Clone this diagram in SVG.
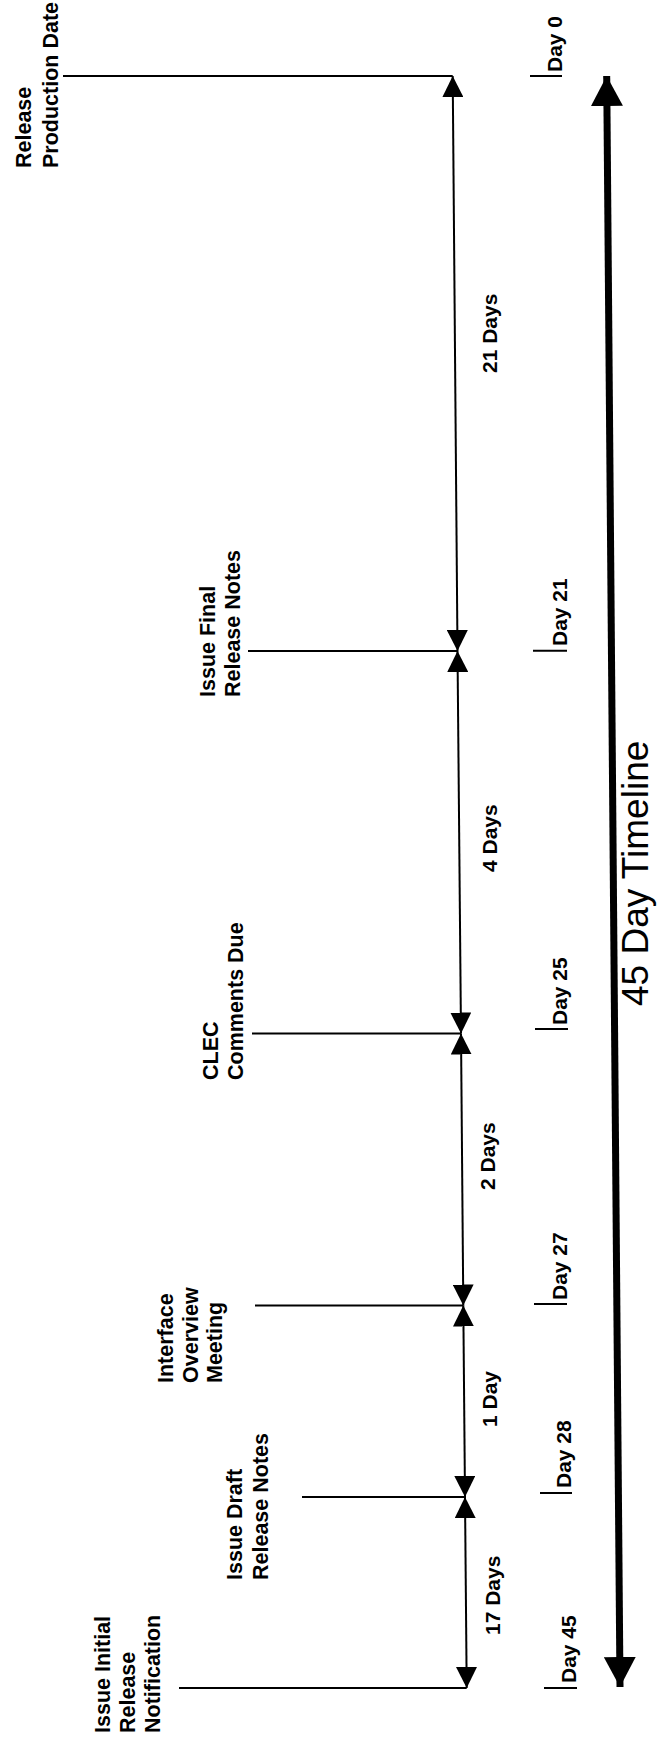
<svg xmlns="http://www.w3.org/2000/svg" width="657" height="1740" viewBox="0 0 657 1740">
<style>
.lbl{font-family:"Liberation Sans",Arial,sans-serif;font-weight:bold;font-size:21.5px;fill:#000}
.dur{font-family:"Liberation Sans",Arial,sans-serif;font-weight:bold;font-size:21px;fill:#000}
.day{font-family:"Liberation Sans",Arial,sans-serif;font-weight:bold;font-size:21px;fill:#000}
.title{font-family:"Liberation Sans",Arial,sans-serif;font-size:37px;fill:#000}
.lead{stroke:#000;stroke-width:2;fill:none}
.seg{stroke:#000;stroke-width:2;fill:none;marker-start:url(#ah);marker-end:url(#ah)}
.tick{stroke:#000;stroke-width:2}
.big{stroke:#000;stroke-width:7;fill:none;marker-start:url(#bh);marker-end:url(#bh)}
</style>
<defs>
<marker id="ah" markerUnits="userSpaceOnUse" markerWidth="21" markerHeight="21" refX="21" refY="10.5" orient="auto-start-reverse" viewBox="0 0 21 21">
<path d="M0,0 L21,10.5 L0,21 z" fill="#000"/>
</marker>
<marker id="bh" markerUnits="userSpaceOnUse" markerWidth="30" markerHeight="32" refX="30" refY="16" orient="auto-start-reverse" viewBox="0 0 30 32">
<path d="M0,0 L30,16 L0,32 z" fill="#000"/>
</marker>
</defs>
<rect width="657" height="1740" fill="#fff"/>

<g id="connectors">
<line class="lead" x1="63" y1="76" x2="452.7" y2="76"/>
<line class="lead" x1="248" y1="651" x2="457.5" y2="651"/>
<line class="lead" x1="252" y1="1033.5" x2="461" y2="1033.5"/>
<line class="lead" x1="255" y1="1305.5" x2="463.3" y2="1305.5"/>
<line class="lead" x1="302" y1="1497" x2="465" y2="1497"/>
<line class="lead" x1="179" y1="1688" x2="466.7" y2="1688"/>
<line class="seg" x1="452.7" y1="76" x2="457.5" y2="651"/>
<line class="seg" x1="457.5" y1="651" x2="461" y2="1033.5"/>
<line class="seg" x1="461" y1="1033.5" x2="463.3" y2="1305.5"/>
<line class="seg" x1="463.3" y1="1305.5" x2="465" y2="1497"/>
<line class="seg" x1="465" y1="1497" x2="466.7" y2="1688"/>
<line class="big" x1="606.7" y1="76" x2="620" y2="1687"/>
</g>

<g id="node-release-production">
<text class="lbl" transform="translate(31,168) rotate(-90)"><tspan x="0" y="0">Release</tspan><tspan x="0" y="27">Production Date</tspan></text>
</g>
<g id="node-final-notes">
<text class="lbl" transform="translate(215,697) rotate(-90)"><tspan x="0" y="0">Issue Final</tspan><tspan x="0" y="25">Release Notes</tspan></text>
</g>
<g id="node-clec">
<text class="lbl" transform="translate(218,1080) rotate(-90)"><tspan x="0" y="0">CLEC</tspan><tspan x="0" y="25">Comments Due</tspan></text>
</g>
<g id="node-interface">
<text class="lbl" transform="translate(173,1383) rotate(-90)"><tspan x="0" y="0">Interface</tspan><tspan x="0" y="25">Overview</tspan><tspan x="0" y="49">Meeting</tspan></text>
</g>
<g id="node-draft-notes">
<text class="lbl" transform="translate(242,1580) rotate(-90)"><tspan x="0" y="0">Issue Draft</tspan><tspan x="0" y="26">Release Notes</tspan></text>
</g>
<g id="node-initial">
<text class="lbl" transform="translate(110,1733) rotate(-90)"><tspan x="0" y="0">Issue Initial</tspan><tspan x="0" y="25">Release</tspan><tspan x="0" y="50">Notification</tspan></text>
</g>

<g id="durations">
<text class="dur" transform="translate(497,373) rotate(-90)">21 Days</text>
<text class="dur" transform="translate(497,872) rotate(-90)">4 Days</text>
<text class="dur" transform="translate(495,1190) rotate(-90)">2 Days</text>
<text class="dur" transform="translate(497,1427) rotate(-90)">1 Day</text>
<text class="dur" transform="translate(500,1635) rotate(-90)">17 Days</text>
</g>

<g id="day-markers">
<line class="tick" x1="530" y1="76" x2="562" y2="76"/>
<text class="day" transform="translate(562,72) rotate(-90)">Day 0</text>
<line class="tick" x1="533" y1="650.7" x2="567" y2="650.7"/>
<text class="day" transform="translate(567,646) rotate(-90)">Day 21</text>
<line class="tick" x1="535" y1="1029" x2="568" y2="1029"/>
<text class="day" transform="translate(567,1025) rotate(-90)">Day 25</text>
<line class="tick" x1="534" y1="1304" x2="567" y2="1304"/>
<text class="day" transform="translate(567,1300) rotate(-90)">Day 27</text>
<line class="tick" x1="540" y1="1493" x2="572" y2="1493"/>
<text class="day" transform="translate(571,1488) rotate(-90)">Day 28</text>
<line class="tick" x1="544" y1="1688" x2="577" y2="1688"/>
<text class="day" transform="translate(576,1683) rotate(-90)">Day 45</text>
</g>

<g id="title">
<text class="title" transform="translate(648,1006) rotate(-90)">45 Day Timeline</text>
</g>
</svg>
